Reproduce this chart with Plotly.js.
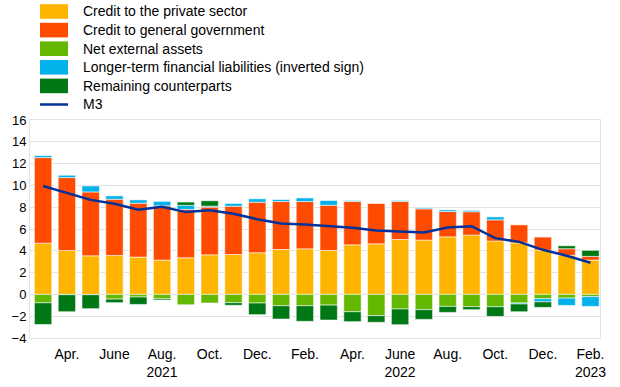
<!DOCTYPE html>
<html>
<head>
<meta charset="utf-8">
<script src="https://cdn.plot.ly/plotly-3.0.1.min.js"></script>
<style>html,body{margin:0;padding:0;background:#fff;}#chart{width:620px;height:387px;}</style>
</head>
<body>
<div id="chart"></div>
<script>
const months = ["2021-03","2021-04","2021-05","2021-06","2021-07","2021-08","2021-09","2021-10","2021-11","2021-12",
  "2022-01","2022-02","2022-03","2022-04","2022-05","2022-06","2022-07","2022-08","2022-09","2022-10","2022-11","2022-12",
  "2023-01","2023-02"];
const privateSector = [4.70,4.03,3.54,3.57,3.42,3.15,3.36,3.63,3.66,3.82,4.12,4.18,4.03,4.55,4.64,5.04,4.98,5.28,5.44,4.89,4.73,4.06,3.58,3.15];
const generalGov = [7.85,6.69,5.86,5.16,4.95,4.98,4.44,4.38,4.43,4.64,4.40,4.34,4.15,3.97,3.73,3.48,2.87,2.32,2.14,1.95,1.65,1.20,0.61,0.34];
const netExternal = [-0.77,-0.03,-0.03,-0.43,-0.24,-0.40,-0.95,-0.79,-0.76,-0.79,-1.04,-1.04,-0.98,-1.59,-1.95,-1.34,-1.40,-1.10,-1.13,-1.13,-0.79,-0.40,-0.34,-0.21];
const longerTerm = [0.18,0.21,0.55,0.31,0.30,0.40,0.37,0.09,0.25,0.31,0.18,0.33,0.43,0.09,0.00,0.09,0.09,0.15,0.12,0.27,-0.09,-0.28,-0.67,-0.89];
const remaining = [-1.99,-1.56,-1.28,-0.33,-0.68,-0.12,0.30,0.49,-0.24,-1.07,-1.22,-1.43,-1.37,-0.91,-0.61,-1.44,-0.89,-0.55,-0.27,-0.89,-0.71,-0.51,0.27,0.55];
const m3 = [9.95,9.34,8.67,8.31,7.76,8.05,7.55,7.72,7.39,6.90,6.50,6.41,6.29,6.11,5.86,5.80,5.68,6.14,6.26,5.16,4.82,4.09,3.55,2.91];
const tickVals = ["2021-04","2021-06","2021-08","2021-10","2021-12","2022-02","2022-04","2022-06","2022-08","2022-10","2022-12","2023-02"];
const tickText = ["Apr.","June","Aug.<br>2021","Oct.","Dec.","Feb.","Apr.","June<br>2022","Aug.","Oct.","Dec.","Feb.<br>2023"];
const seriesNames = ["Credit to the private sector","Credit to general government","Net external assets",
  "Longer-term financial liabilities (inverted sign)","Remaining counterparts","M3"];
const seriesColors = ["#FFB400","#FF4B00","#65B800","#00B1EA","#007816","#003299"];

const W = 620, H = 387;
const M = {l:30, r:20, t:120, b:49};
const PW = W - M.l - M.r, PH = H - M.t - M.b;
const px = v => (v - M.l) / PW;      // pixel x -> paper x
const py = v => (H - M.b - v) / PH;  // pixel y -> paper y

const edge = {color:'rgba(255,255,255,0.55)', width:1};
const seriesY = [privateSector, generalGov, netExternal, longerTerm, remaining];
const data = seriesY.map((y, i) => ({
  type:'bar', name:seriesNames[i], x:months, y:y,
  marker:{color:seriesColors[i], line:edge}, showlegend:false
}));
data.push({type:'scatter', mode:'lines', name:seriesNames[5], x:months, y:m3,
  line:{color:seriesColors[5], width:2.5}, showlegend:false});

// Manual legend (large swatches like the reference)
const shapes = [], annotations = [];
const rowY0 = 11.5, rowStep = 18.6;
seriesNames.forEach((name, i) => {
  const cy = rowY0 + i * rowStep;
  if (i < 5) {
    shapes.push({type:'rect', xref:'paper', yref:'paper', x0:px(40), x1:px(68), y0:py(cy - 7.3), y1:py(cy + 7.3),
      fillcolor:seriesColors[i], line:{width:0}});
  } else {
    shapes.push({type:'line', xref:'paper', yref:'paper', x0:px(40), x1:px(68), y0:py(cy), y1:py(cy),
      line:{color:seriesColors[i], width:2.5}});
  }
  annotations.push({xref:'paper', yref:'paper', x:px(81), y:py(cy), xanchor:'left', yanchor:'middle',
    text:name, showarrow:false, font:{size:14, color:'#000'}});
});

const layout = {
  width:W, height:H,
  margin:M,
  barmode:'relative',
  bargap:0.27,
  paper_bgcolor:'#fff', plot_bgcolor:'#fff',
  font:{family:'Liberation Sans, Arial, sans-serif', size:13, color:'#000'},
  showlegend:false,
  shapes:shapes, annotations:annotations,
  xaxis:{type:'category', range:[-0.55, 23.4], tickmode:'array', tickvals:tickVals, ticktext:tickText,
    showgrid:false, showline:true, mirror:true, linecolor:'#e3e3e3', linewidth:1, ticks:'',
    ticklabelstandoff:3, tickfont:{size:14}, zeroline:false},
  yaxis:{range:[-4,16], dtick:2, tick0:0, showgrid:true, gridcolor:'#e3e3e3', gridwidth:1,
    showline:true, mirror:true, linecolor:'#e3e3e3', linewidth:1, zeroline:false, ticks:'',
    tickfont:{size:13}}
};
Plotly.newPlot('chart', data, layout, {displayModeBar:false, staticPlot:true});
</script>
</body>
</html>
